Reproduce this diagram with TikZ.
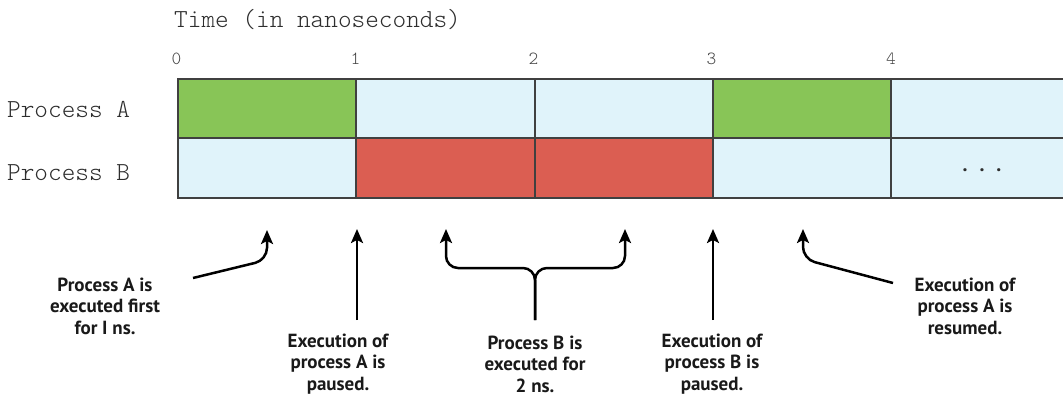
\documentclass[tikz,border=0pt]{standalone}
\usepackage{fontspec}
\newfontfamily\monofont{Latin Modern Mono Light}
\newfontfamily\labfont{PT Sans}
\usetikzlibrary{arrows.meta}
\definecolor{cgreen}{HTML}{88C557}
\definecolor{cblue}{HTML}{E0F3FA}
\definecolor{cred}{HTML}{DB5E52}
\definecolor{cline}{HTML}{404040}
\definecolor{ctext}{HTML}{2E2E2E}
\tikzset{
  mono/.style={font=\monofont\fontsize{26}{28}\selectfont, text=ctext, inner sep=0pt},
  tick/.style={font=\monofont\fontsize{18.5}{20}\selectfont, text=ctext!90, inner sep=0pt},
  lab/.style={font=\labfont\bfseries\fontsize{19}{21.5}\selectfont, align=center, inner sep=0pt, text=black!90},
  arr/.style={line width=2.5pt, -{Stealth[length=14pt,width=12pt,inset=3pt]}, rounded corners=12pt},
  gridline/.style={line width=2pt, draw=cline},
}
\begin{document}
\begin{tikzpicture}[x=1pt,y=-1pt]
\useasboundingbox (0,0) rectangle (1063,402);
% cells
\foreach \c [count=\i from 0] in {cgreen,cblue,cblue,cgreen}
  \fill[\c] (178+178.25*\i,79) rectangle (178+178.25*\i+178.25,138);
\fill[cblue] (891,79) rectangle (1063,138);
\foreach \c [count=\i from 0] in {cblue,cred,cred,cblue}
  \fill[\c] (178+178.25*\i,138) rectangle (178+178.25*\i+178.25,198);
\fill[cblue] (891,138) rectangle (1063,198);
% grid lines
\foreach \y in {79,138,198} \draw[gridline] (177,\y) -- (1063,\y);
\foreach \x in {178,356.25,534.5,712.75,891} \draw[gridline] (\x,79) -- (\x,198);
% texts
\node[mono, anchor=base west] (title) at (174,27) {Time (in nanoseconds)};
\foreach \x/\t in {176.5/0,355.5/1,533.5/2,711.5/3,891/4}
  \node[tick, anchor=base] (t\t) at (\x,64) {\t};
\node[mono, anchor=base west] (pa) at (7,117) {Process A};
\node[mono, anchor=base west] (pb) at (7,180) {Process B};
\node[font=\labfont\bfseries\fontsize{20}{22}\selectfont, text=ctext, inner sep=0pt, anchor=base] (dots) at (982,171.5) {.\hspace{12pt}.\hspace{12pt}.};
% labels
\node[lab] (l1) at (105,306) {Process A is\\executed first\\for I ns.};
\node[lab] (l2) at (338,364) {Execution of\\process A is\\paused.};
\node[lab] (l3) at (535,364) {Process B is\\executed for\\2 ns.};
\node[lab] (l4) at (712,364) {Execution of\\process B is\\paused.};
\node[lab] (l5) at (965,306) {Execution of\\process A is\\resumed.};
% arrow coordinates
\coordinate (a1s) at (193,278);
\coordinate (a1m) at (267,260);
\coordinate (a1t) at (267,230);
\coordinate (a2s) at (357,320);
\coordinate (a2t) at (357,229);
\coordinate (bs) at (535,320);
\coordinate (bm) at (535,268);
\coordinate (blt) at (446,229);
\coordinate (brt) at (625,229);
\coordinate (a4s) at (713,320);
\coordinate (a4t) at (713,229);
\coordinate (a5s) at (893,283);
\coordinate (a5m) at (803,259);
\coordinate (a5t) at (803,229);
\draw[arr] (a1s) -- (a1m) -- (a1t);
\draw[arr] (a2s) -- (a2t);
\draw[arr] (bs) -- (bm) -| (blt);
\draw[arr] (bs) -- (bm) -| (brt);
\draw[arr] (a4s) -- (a4t);
\draw[arr] (a5s) -- (a5m) -- (a5t);
\end{tikzpicture}
\end{document}
